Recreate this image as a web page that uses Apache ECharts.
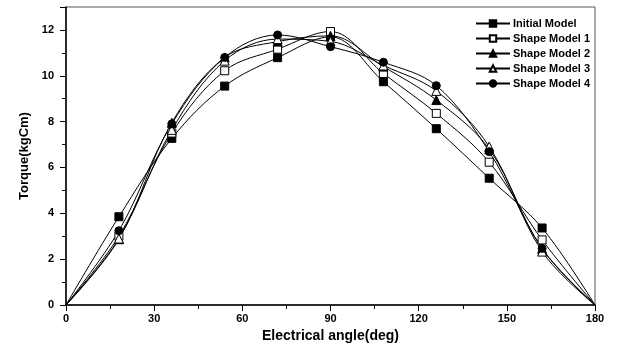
<!DOCTYPE html>
<html>
<head>
<meta charset="utf-8">
<script src="https://cdn.jsdelivr.net/npm/echarts@6/dist/echarts.min.js"></script>
<style>
  html, body { margin: 0; padding: 0; background: #fff; }
  #main { width: 619px; height: 356px; }
</style>
</head>
<body>
<div id="main"></div>
<script>
const angles = [0, 18, 36, 54, 72, 90, 108, 126, 144, 162, 180]
const initialModel = [0, 3.85, 7.27, 9.55, 10.79, 11.7, 9.74, 7.69, 5.53, 3.36, 0]
const shapeModel1 = [0, 3.0, 7.5, 10.22, 11.16, 11.93, 10.1, 8.36, 6.23, 2.84, 0]
const shapeModel2 = [0, 2.87, 7.95, 10.8, 11.49, 11.74, 10.4, 8.94, 6.8, 2.45, 0]
const shapeModel3 = [0, 2.9, 7.64, 10.66, 11.6, 11.5, 10.45, 9.34, 6.91, 2.33, 0]
const shapeModel4 = [0, 3.24, 7.9, 10.8, 11.78, 11.27, 10.59, 9.57, 6.69, 2.47, 0]
const seriesNames = ['Initial Model', 'Shape Model 1', 'Shape Model 2', 'Shape Model 3', 'Shape Model 4']

const font = 'Arial, "Liberation Sans", sans-serif'

const chart = echarts.init(document.getElementById('main'))

function pairs(values) {
    return angles.map((a, i) => [a, values[i]])
}

function makeSeries(name, values, symbol, hollow) {
    const size = symbol === 'triangle' ? 9 : 8
    return {
        name: name,
        type: 'line',
        data: pairs(values),
        smooth: 0.35,
        symbol: symbol,
        // endpoints at 0 and 180 have no visible marker in the original
        symbolSize: (v) => (v[0] === 0 || v[0] === 180 ? 0 : size),
        showAllSymbol: true,
        lineStyle: { color: '#000', width: 1 },
        itemStyle: {
            color: hollow ? '#fff' : '#000',
            borderColor: '#000',
            borderWidth: 1
        },
        emphasis: { disabled: true },
        animation: false
    }
}

const option = {
    animation: false,
    backgroundColor: '#fff',
    grid: {
        left: 66,
        right: 24,
        top: 7,
        bottom: 51,
        show: true,
        borderColor: '#555',
        borderWidth: 1
    },
    legend: {
        orient: 'vertical',
        left: 470,
        top: 13,
        itemWidth: 34,
        itemHeight: 8,
        itemGap: 4,
        textStyle: { fontFamily: font, fontWeight: 'bold', fontSize: 11, color: '#000', padding: [0, 0, 0, -2] },
        data: seriesNames
    },
    xAxis: {
        type: 'value',
        min: 0,
        max: 180,
        interval: 30,
        name: 'Electrical angle(deg)',
        nameLocation: 'middle',
        nameGap: 24,
        nameTextStyle: { fontFamily: font, fontWeight: 'bold', fontSize: 14, color: '#000' },
        axisLine: { lineStyle: { color: '#000', width: 1.5 } },
        axisTick: { inside: false, length: 6, lineStyle: { color: '#000', width: 1 } },
        minorTick: { show: true, splitNumber: 2, length: 4, lineStyle: { color: '#000' } },
        splitLine: { show: false },
        axisLabel: { fontFamily: font, fontWeight: 'bold', fontSize: 11, color: '#000', margin: 8 }
    },
    yAxis: {
        type: 'value',
        min: 0,
        max: 13,
        interval: 2,
        name: 'Torque(kgCm)',
        nameLocation: 'middle',
        nameGap: 28,
        nameTextStyle: { fontFamily: font, fontWeight: 'bold', fontSize: 13, color: '#000' },
        axisLine: { show: true, lineStyle: { color: '#000', width: 1.5 } },
        axisTick: { show: true, inside: false, length: 6, lineStyle: { color: '#000', width: 1 } },
        minorTick: { show: true, splitNumber: 2, length: 4, lineStyle: { color: '#000' } },
        splitLine: { show: false },
        axisLabel: { fontFamily: font, fontWeight: 'bold', fontSize: 11, color: '#000', margin: 12, showMaxLabel: false }
    },
    series: [
        makeSeries(seriesNames[0], initialModel, 'rect', false),
        makeSeries(seriesNames[1], shapeModel1, 'rect', true),
        makeSeries(seriesNames[2], shapeModel2, 'triangle', false),
        makeSeries(seriesNames[3], shapeModel3, 'triangle', true),
        makeSeries(seriesNames[4], shapeModel4, 'circle', false)
    ]
}

chart.setOption(option)
</script>
</body>
</html>
